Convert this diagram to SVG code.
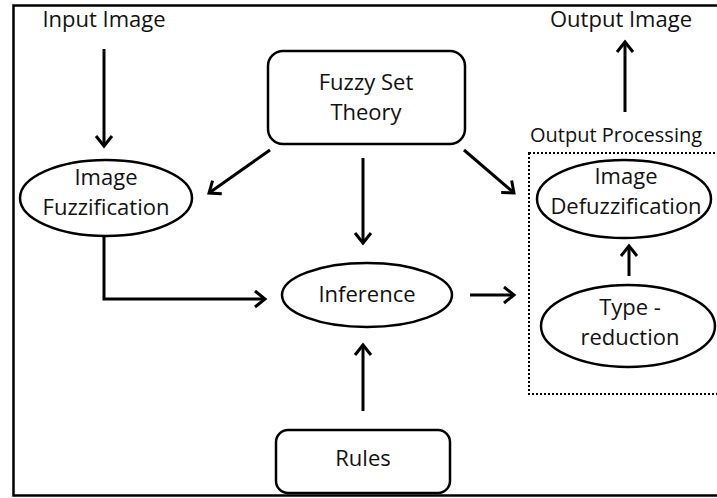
<svg xmlns="http://www.w3.org/2000/svg" width="717" height="498" viewBox="0 0 717 498">
<style>
text{font-family:"Open Sans","Noto Sans","Liberation Sans",sans-serif;font-size:22px;fill:#111;text-anchor:middle}
.shape{fill:#fff;stroke:#000;stroke-width:2.5}
.conn{fill:none;stroke:#000;stroke-width:3;marker-end:url(#arr)}
</style>
<defs>
<marker id="arr" markerUnits="userSpaceOnUse" markerWidth="16" markerHeight="20" refX="11" refY="10" orient="auto" viewBox="0 0 16 20">
<path d="M1,2 L11,10 L1,18" fill="none" stroke="#000" stroke-width="3"/>
</marker>
</defs>
<rect width="717" height="498" fill="#fff"/>
<rect id="frame" x="13.5" y="5.5" width="730" height="490" fill="none" stroke="#000" stroke-width="2.5"/>
<g id="input-image"><text x="104" y="27">Input Image</text></g>
<g id="output-image"><text x="621" y="27">Output Image</text></g>
<g id="output-processing">
<rect x="529" y="153" width="200" height="241" fill="none" stroke="#000" stroke-width="2" stroke-dasharray="2 2"/>
<text x="530" y="142" style="text-anchor:start;font-size:20px">Output Processing</text>
</g>
<g id="fuzzy-set-theory">
<rect class="shape" x="268" y="51" width="197" height="93" rx="15"/>
<text x="366" y="90">Fuzzy Set</text>
<text x="366" y="120">Theory</text>
</g>
<g id="image-fuzzification">
<ellipse class="shape" cx="106" cy="198" rx="86" ry="38"/>
<text x="106" y="185">Image</text>
<text x="106" y="215">Fuzzification</text>
</g>
<g id="image-defuzzification">
<ellipse class="shape" cx="624" cy="199" rx="87" ry="39"/>
<text x="626" y="184">Image</text>
<text x="626" y="214">Defuzzification</text>
</g>
<g id="inference">
<ellipse class="shape" cx="367" cy="295" rx="85" ry="32"/>
<text x="367" y="302">Inference</text>
</g>
<g id="type-reduction">
<ellipse class="shape" cx="628" cy="326" rx="87" ry="41"/>
<text x="630" y="315">Type -</text>
<text x="630" y="345">reduction</text>
</g>
<g id="rules">
<rect class="shape" x="276" y="430" width="174" height="63" rx="12"/>
<text x="363" y="466">Rules</text>
</g>
<g id="connectors">
<line class="conn" x1="104" y1="49" x2="104" y2="146"/>
<line class="conn" x1="270" y1="150" x2="209" y2="193"/>
<line class="conn" x1="363" y1="158" x2="363" y2="243"/>
<line class="conn" x1="464" y1="150" x2="514" y2="193"/>
<polyline class="conn" points="104,236 104,299 265,299"/>
<line class="conn" x1="470" y1="295" x2="514" y2="295"/>
<line class="conn" x1="363" y1="411" x2="363" y2="345"/>
<line class="conn" x1="629" y1="276" x2="629" y2="246"/>
<line class="conn" x1="625" y1="112" x2="625" y2="42"/>
</g>
</svg>
